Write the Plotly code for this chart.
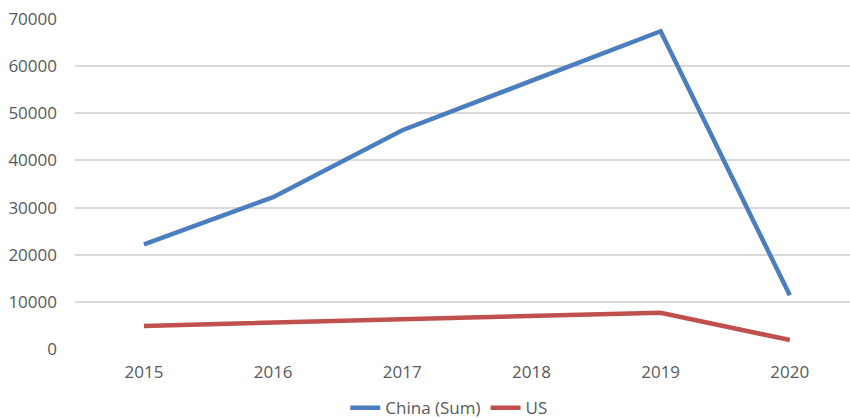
import plotly.graph_objects as go

years = ["2015", "2016", "2017", "2018", "2019", "2020"]
china_sum = [22200, 32200, 46400, 57000, 67400, 11400]
us = [4900, 5600, 6150, 7000, 7700, 1900]
y_ticks = [0, 10000, 20000, 30000, 40000, 50000, 60000, 70000]

font_family = "Open Sans, Liberation Sans, sans-serif"
text_color = "#595959"

fig = go.Figure()
fig.add_trace(go.Scatter(
    x=years, y=china_sum, name="China (Sum)", mode="lines",
    line=dict(color="#4a7ebf", width=4.5),
))
fig.add_trace(go.Scatter(
    x=years, y=us, name="US", mode="lines",
    line=dict(color="#c0504d", width=4.5),
))

fig.update_layout(
    width=850, height=419,
    margin=dict(l=75, r=0, t=19, b=70, autoexpand=False),
    paper_bgcolor="white", plot_bgcolor="white",
    font=dict(family=font_family, size=17, color=text_color),
    showlegend=True,
    legend=dict(
        orientation="h", x=0.528, xanchor="center", xref="container",
        y=0.026, yanchor="middle", yref="container",
        font=dict(size=17, color=text_color),
        itemwidth=30, tracegroupgap=0,
    ),
    xaxis=dict(
        type="category", range=[-0.534, 5.466],
        showgrid=False, zeroline=False, showline=False,
        ticks="", ticklabelstandoff=11,
    ),
    yaxis=dict(
        range=[0, 70000], tickvals=y_ticks,
        ticktext=[str(v) for v in y_ticks],
        showgrid=True, gridcolor="#d9d9d9", gridwidth=1.5,
        zeroline=False, showline=False, ticks="",
        ticklabelstandoff=17,
    ),
)

fig.write_html("out.html")
